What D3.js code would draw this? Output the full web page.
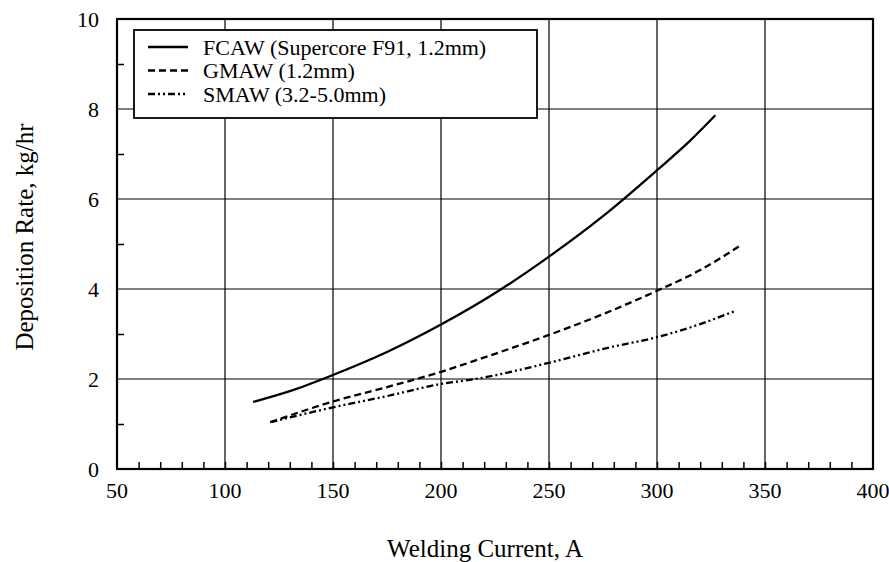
<!DOCTYPE html>
<html>
<head>
<meta charset="utf-8">
<script src="https://cdn.jsdelivr.net/npm/d3@7"></script>
<style>
  body { margin: 0; background: #fff; }
  text { font-family: "Liberation Serif", "Times New Roman", serif; fill: #000; }
</style>
</head>
<body>
<div id="chart"></div>
<script>
// series values (welding current A, deposition kg/hr)
var fcaw_current = [113, 130, 150, 175, 200, 228, 250, 275, 300, 315, 327]
var fcaw_rate    = [1.49, 1.73, 2.09, 2.6, 3.21, 4.0, 4.72, 5.62, 6.64, 7.28, 7.86]

var gmaw_current = [121, 150, 175, 200, 225, 250, 278, 300, 320, 339]
var gmaw_rate    = [1.04, 1.5, 1.82, 2.16, 2.56, 2.98, 3.5, 3.96, 4.42, 4.98]

var smaw_current = [121, 150, 175, 200, 216, 250, 278, 300, 320, 336]
var smaw_rate    = [1.04, 1.37, 1.62, 1.89, 2.0, 2.36, 2.7, 2.93, 3.22, 3.51]

var series_names = ["FCAW (Supercore F91, 1.2mm)", "GMAW (1.2mm)", "SMAW (3.2-5.0mm)"]

var x_ticks = [50, 100, 150, 200, 250, 300, 350, 400]
var y_ticks = [0, 2, 4, 6, 8, 10]

var W = 889, H = 562
var margin = {top: 19, right: 16, bottom: 93, left: 117}
var width = W - margin.left - margin.right
var height = H - margin.top - margin.bottom

var svg = d3.select("#chart").append("svg")
    .attr("width", W)
    .attr("height", H)
  .append("g")
    .attr("transform", "translate(" + margin.left + "," + margin.top + ")")

var x = d3.scaleLinear().domain([50, 400]).range([0, width])
var y = d3.scaleLinear().domain([0, 10]).range([height, 0])

// grid lines at the labelled values
svg.append("g")
  .selectAll("line")
  .data(x_ticks.slice(1, -1))
  .join("line")
    .attr("x1", d => x(d)).attr("x2", d => x(d))
    .attr("y1", 0).attr("y2", height)
    .attr("stroke", "#000").attr("stroke-width", 1.2)

svg.append("g")
  .selectAll("line")
  .data(y_ticks.slice(1, -1))
  .join("line")
    .attr("x1", 0).attr("x2", width)
    .attr("y1", d => y(d)).attr("y2", d => y(d))
    .attr("stroke", "#000").attr("stroke-width", 1.2)

// bottom axis: labels + small inner ticks every 10 A
var xAxis = svg.append("g")
    .attr("transform", "translate(0," + height + ")")
    .call(d3.axisBottom(x).tickValues(d3.range(60, 400, 10)).tickSize(-7).tickFormat(""))
xAxis.select(".domain").remove()
xAxis.selectAll("line").attr("stroke", "#000").attr("stroke-width", 1.5)

svg.append("g")
  .selectAll("text")
  .data(x_ticks)
  .join("text")
    .attr("x", d => x(d))
    .attr("y", height + 29)
    .attr("text-anchor", "middle")
    .style("font-size", "22px")
    .text(d => d)

// left axis: labels + inner ticks at odd values
var yAxis = svg.append("g")
    .call(d3.axisLeft(y).tickValues([1, 3, 5, 7, 9]).tickSize(-7).tickFormat(""))
yAxis.select(".domain").remove()
yAxis.selectAll("line").attr("stroke", "#000").attr("stroke-width", 1.5)

svg.append("g")
  .selectAll("text")
  .data(y_ticks)
  .join("text")
    .attr("x", -18)
    .attr("y", d => y(d))
    .attr("dy", "0.35em")
    .attr("text-anchor", "end")
    .style("font-size", "22px")
    .text(d => d)

// frame
svg.append("rect")
    .attr("width", width).attr("height", height)
    .attr("fill", "none").attr("stroke", "#000").attr("stroke-width", 2.2)

var line = d3.line()
    .x(d => x(d[0]))
    .y(d => y(d[1]))
    .curve(d3.curveMonotoneX)

var dashes = [null, "7,4", "7,3,2,3,2,3"]
var curves = [
  d3.zip(fcaw_current, fcaw_rate),
  d3.zip(gmaw_current, gmaw_rate),
  d3.zip(smaw_current, smaw_rate)
]

curves.forEach(function(pts, i) {
  svg.append("path")
      .datum(pts)
      .attr("d", line)
      .attr("fill", "none")
      .attr("stroke", "#000")
      .attr("stroke-width", 2.3)
      .attr("stroke-dasharray", dashes[i])
})

// legend box
var lg = svg.append("g")
    .attr("transform", "translate(" + (134 - margin.left) + "," + (30 - margin.top) + ")")
lg.append("rect")
    .attr("width", 403).attr("height", 88)
    .attr("fill", "#fff").attr("stroke", "#000").attr("stroke-width", 1.8)

series_names.forEach(function(name, i) {
  var yy = 17 + i * 23.5
  lg.append("line")
      .attr("x1", 14).attr("x2", 54)
      .attr("y1", yy).attr("y2", yy)
      .attr("stroke", "#000").attr("stroke-width", 2.3)
      .attr("stroke-dasharray", dashes[i])
  lg.append("text")
      .attr("x", 69).attr("y", yy)
      .attr("dy", "0.35em")
      .style("font-size", "22px")
      .text(name)
})

// axis titles
svg.append("text")
    .attr("x", width / 2 - 10)
    .attr("y", height + 88)
    .attr("text-anchor", "middle")
    .style("font-size", "25px")
    .text("Welding Current, A")

svg.append("text")
    .attr("transform", "translate(" + (-84) + "," + 218 + ") rotate(-90)")
    .attr("text-anchor", "middle")
    .style("font-size", "25px")
    .text("Deposition Rate, kg/hr")
</script>
</body>
</html>
